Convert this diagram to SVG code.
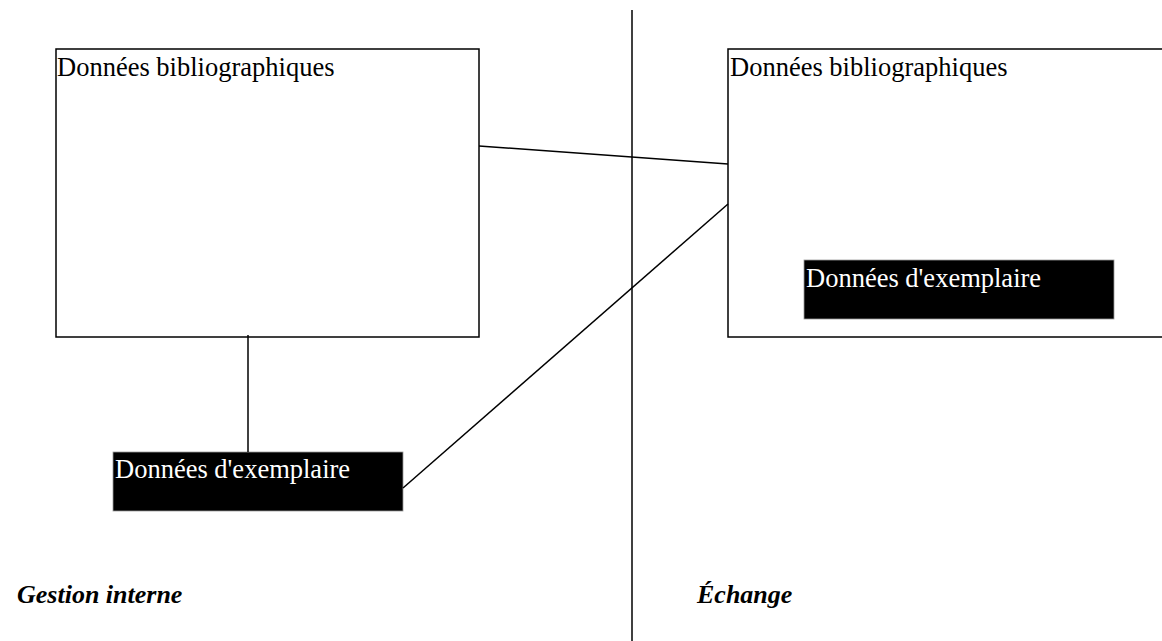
<svg xmlns="http://www.w3.org/2000/svg" width="1162" height="641" viewBox="0 0 1162 641">
<style>
.box{fill:#fff;stroke:#000;stroke-width:1.5}
.dark{fill:#000;stroke:#999;stroke-width:0.8}
.lbl{font-family:"Liberation Serif","Times New Roman",serif;font-size:26.5px;fill:#000}
.wlbl{font-family:"Liberation Serif","Times New Roman",serif;font-size:26.5px;fill:#fff}
.zone{font-family:"Liberation Serif","Times New Roman",serif;font-size:26px;font-weight:bold;font-style:italic;fill:#000}
.conn{stroke:#000;stroke-width:1.5;fill:none}
</style>
<rect width="1162" height="641" fill="#fff"/>
<g id="divider">
<line class="conn" x1="632" y1="10" x2="632" y2="641"/>
</g>
<g id="biblio-interne">
<rect class="box" x="56" y="49" width="423" height="288"/>
<text class="lbl" x="57" y="76">Données bibliographiques</text>
</g>
<g id="biblio-echange">
<rect class="box" x="728" y="49" width="445" height="288"/>
<text class="lbl" x="730" y="76">Données bibliographiques</text>
</g>
<g id="exemplaire-echange">
<rect class="dark" x="804" y="260" width="310" height="59"/>
<text class="wlbl" x="806" y="287">Données d'exemplaire</text>
</g>
<g id="exemplaire-interne">
<rect class="dark" x="113" y="452" width="290" height="59"/>
<text class="wlbl" x="115" y="478">Données d'exemplaire</text>
</g>
<g id="connectors">
<line class="conn" x1="479" y1="146" x2="728" y2="164"/>
<line class="conn" x1="403" y1="488" x2="728" y2="204"/>
<line class="conn" x1="248" y1="335" x2="248" y2="452"/>
</g>
<g id="zones">
<text class="zone" x="17" y="603">Gestion interne</text>
<text class="zone" x="697" y="603">Échange</text>
</g>
</svg>
